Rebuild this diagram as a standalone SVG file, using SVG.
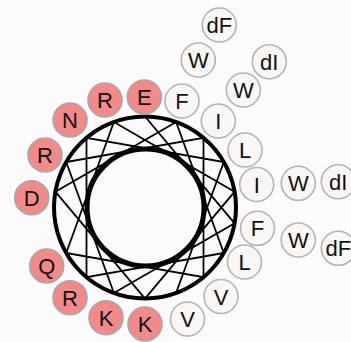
<svg xmlns="http://www.w3.org/2000/svg" width="351" height="342" viewBox="0 0 351 342">
<style>
.hp{fill:#f28a8a;stroke:#a8a8a8;stroke-width:1.6}
.hb{fill:#faf8f6;stroke:#b4b4b4;stroke-width:1.6}
.t{font-family:"Liberation Sans",Arial,sans-serif;font-size:22px;fill:#111;text-anchor:middle}
.ring{fill:none;stroke:#000}
.ch{stroke:#000;stroke-width:1.8;fill:none}
</style>
<rect width="351" height="342" fill="#fdfbfb"/>
<g id="wheel">
<circle class="ring" cx="145" cy="207.5" r="91" stroke-width="4" fill="#fff"/>
<circle class="ring" cx="145.5" cy="207.5" r="58.5" stroke-width="5"/>
</g>
<g id="connectors">
<path class="ch" d="M145,116.5 L234.6,223.3 L113.9,293 L66.2,162 L203.5,137.8 L203.5,277.2 L66.2,253 L113.9,122 L234.6,191.7 L145,298.5 L55.4,191.7 L176.1,122 L223.8,253 L86.5,277.2 L86.5,137.8 L223.8,162 L176.1,293"/>
</g>
<g id="n-E1"><circle class="hp" cx="144.3" cy="97" r="17"/><text class="t" x="144.3" y="105">E</text></g>
<g id="n-F1"><circle class="hb" cx="182" cy="101" r="17"/><text class="t" x="182" y="109">F</text></g>
<g id="n-I1"><circle class="hb" cx="218.3" cy="121" r="17"/><text class="t" x="218.3" y="129">I</text></g>
<g id="n-L1"><circle class="hb" cx="245" cy="150" r="17"/><text class="t" x="245" y="158">L</text></g>
<g id="n-I2"><circle class="hb" cx="256.7" cy="184.5" r="17"/><text class="t" x="256.7" y="192.5">I</text></g>
<g id="n-F2"><circle class="hb" cx="257.5" cy="228.3" r="17"/><text class="t" x="257.5" y="236.3">F</text></g>
<g id="n-L2"><circle class="hb" cx="244.5" cy="262" r="17"/><text class="t" x="244.5" y="270">L</text></g>
<g id="n-V1"><circle class="hb" cx="221" cy="296.5" r="17"/><text class="t" x="221" y="304.5">V</text></g>
<g id="n-V2"><circle class="hb" cx="187.5" cy="319" r="17"/><text class="t" x="187.5" y="327">V</text></g>
<g id="n-K1"><circle class="hp" cx="145" cy="324" r="17"/><text class="t" x="145" y="332">K</text></g>
<g id="n-K2"><circle class="hp" cx="106" cy="317.7" r="17"/><text class="t" x="106" y="325.7">K</text></g>
<g id="n-R1"><circle class="hp" cx="70" cy="297.7" r="17"/><text class="t" x="70" y="305.7">R</text></g>
<g id="n-Q1"><circle class="hp" cx="46.7" cy="266" r="17"/><text class="t" x="46.7" y="274">Q</text></g>
<g id="n-D1"><circle class="hp" cx="31.7" cy="197.7" r="17"/><text class="t" x="31.7" y="205.7">D</text></g>
<g id="n-R2"><circle class="hp" cx="45" cy="155" r="17"/><text class="t" x="45" y="163">R</text></g>
<g id="n-N1"><circle class="hp" cx="70" cy="120" r="17"/><text class="t" x="70" y="128">N</text></g>
<g id="n-R3"><circle class="hp" cx="105" cy="100" r="17"/><text class="t" x="105" y="108">R</text></g>
<g id="n-W1"><circle class="hb" cx="198.3" cy="60" r="17"/><text class="t" x="198.3" y="68">W</text></g>
<g id="n-dF1"><circle class="hb" cx="219.3" cy="25" r="17"/><text class="t" x="219.3" y="33">dF</text></g>
<g id="n-W2"><circle class="hb" cx="243.3" cy="90" r="17"/><text class="t" x="243.3" y="98">W</text></g>
<g id="n-dI1"><circle class="hb" cx="269.3" cy="61.7" r="17"/><text class="t" x="269.3" y="69.7">dI</text></g>
<g id="n-W3"><circle class="hb" cx="298.3" cy="183.3" r="17"/><text class="t" x="298.3" y="191.3">W</text></g>
<g id="n-dI2"><circle class="hb" cx="338.3" cy="181.7" r="17"/><text class="t" x="338.3" y="189.7">dI</text></g>
<g id="n-W4"><circle class="hb" cx="298.3" cy="240" r="17"/><text class="t" x="298.3" y="248">W</text></g>
<g id="n-dF2"><circle class="hb" cx="338.3" cy="248.3" r="17"/><text class="t" x="338.3" y="256.3">dF</text></g>
</svg>
